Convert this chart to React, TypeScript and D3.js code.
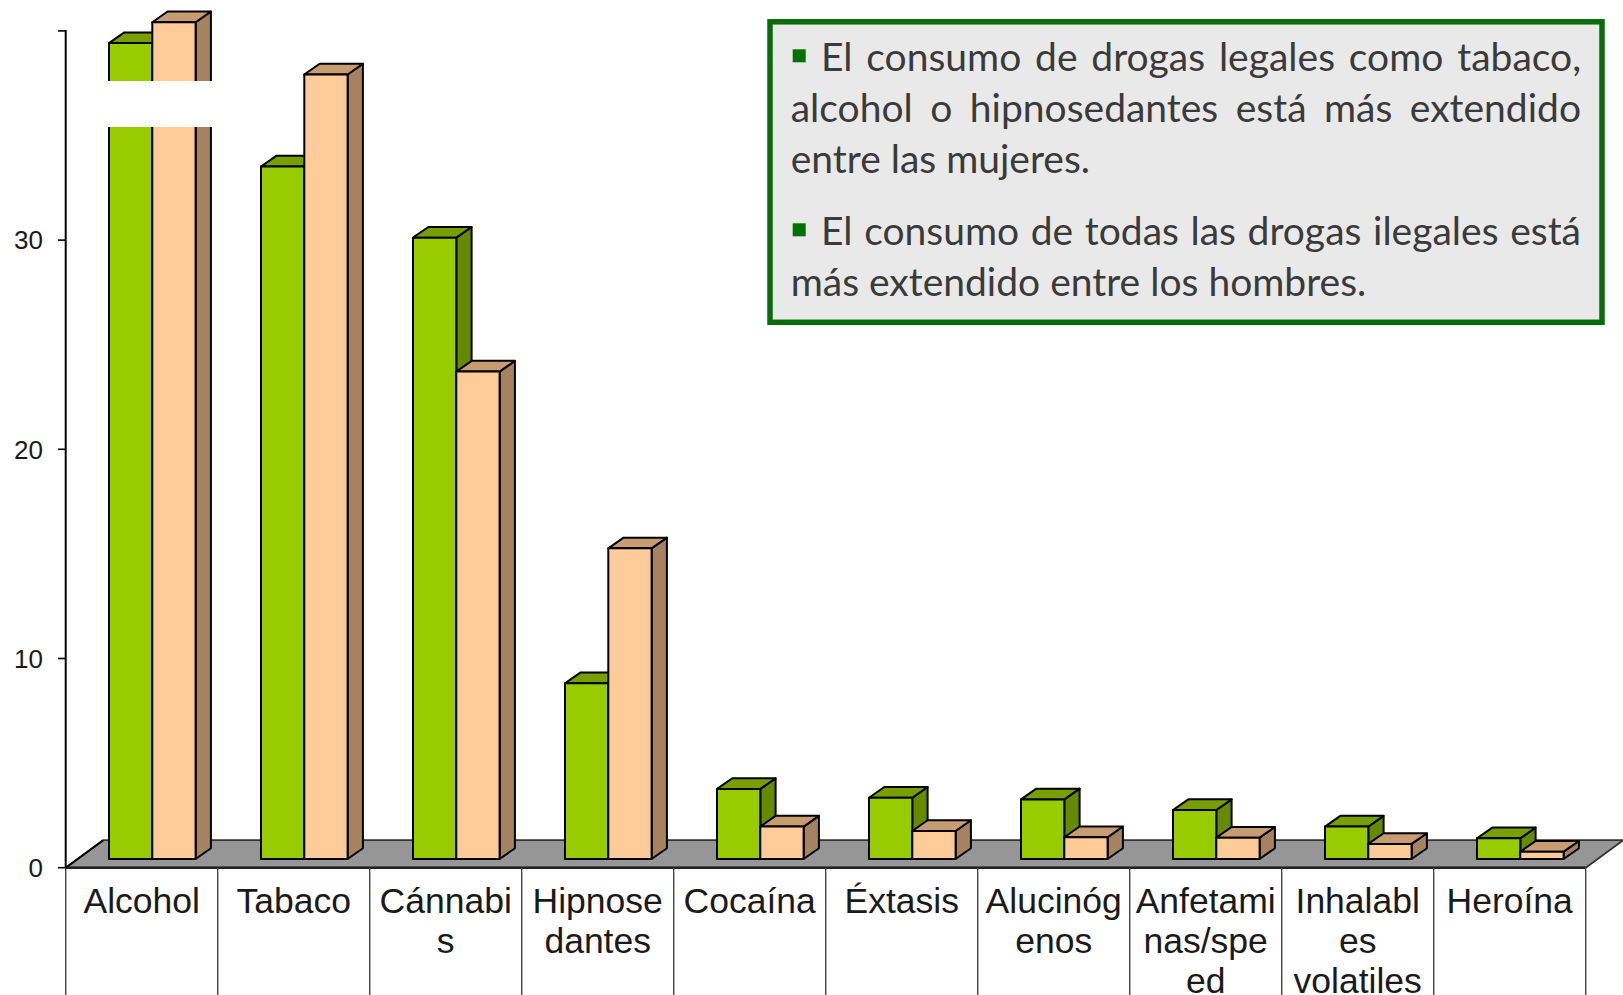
import React, { useMemo } from "react";
import * as d3 from "d3";

// ---- data ----
const categories = [
  "Alcohol", "Tabaco", "Cánnabis", "Hipnosedantes", "Cocaína",
  "Éxtasis", "Alucinógenos", "Anfetaminas/speed", "Inhalables volatiles", "Heroína",
];
const categoryLabelLines = [
  ["Alcohol"], ["Tabaco"], ["Cánnabi", "s"], ["Hipnose", "dantes"], ["Cocaína"],
  ["Éxtasis"], ["Alucinóg", "enos"], ["Anfetami", "nas/spe", "ed"], ["Inhalabl", "es", "volatiles"], ["Heroína"],
];
const seriesNames = ["Hombres", "Mujeres"];
const hombres = [39.0, 33.1, 29.7, 8.4, 3.35, 2.93, 2.85, 2.34, 1.55, 0.99];
const mujeres = [40.0, 37.5, 23.3, 14.85, 1.55, 1.34, 1.04, 1.02, 0.72, 0.35];
const yTicks = [0, 10, 20, 30, 40];
const yTickLabels = ["0", "10", "20", "30", ""];
const paragraphs = [
  ["El consumo de drogas legales como tabaco,", "alcohol o hipnosedantes está más extendido", "entre las mujeres."],
  ["El consumo de todas las drogas ilegales está", "más extendido entre los hombres."],
];

// ---- styles ----
const faceColors = [
  { front: "#99cc00", top: "#779f00", side: "#668a00" },
  { front: "#ffcc99", top: "#c89c72", side: "#a78262" },
];

export default function App() {
  const W = 1623, H = 995;
  const left = 65.7, right = 1585.7;
  const y0 = 867.7, yTop = 30.9;
  const floorD = { dx: 37.5, dy: -27.5 };
  const plane = { dx: 10.6, dy: -8.7 };
  const barD = { dx: 15.3, dy: -10.7 };

  const x = d3.scaleBand<string>().domain(categories).range([left, right]).padding(0);
  const y = d3.scaleLinear().domain([0, 40]).range([y0, yTop]);
  const bw = x.bandwidth();
  const inner = d3.scaleBand<string>().domain(seriesNames).range([0, 86.6]).padding(0);
  const series = [hombres, mujeres];

  const textFont = "39px Lato";
  const measure = useMemo(() => {
    const c = document.createElement("canvas").getContext("2d");
    return (s: string) => {
      if (!c) return s.length * 18;
      c.font = textFont;
      return c.measureText(s).width;
    };
  }, []);

  const boxLines: { words: { t: string; x: number }[]; y: number }[] = [];
  const baselines = [[71, 122, 173], [245, 296]];
  const textRight = 1581;
  paragraphs.forEach((para, pi) => {
    para.forEach((line, li) => {
      const startX = li === 0 ? 821 : 790.7;
      const words = line.split(" ");
      const widths = words.map(measure);
      const isLast = li === para.length - 1;
      const total = d3.sum(widths);
      const gap = isLast || words.length < 2 ? measure(" ") : (textRight - startX - total) / (words.length - 1);
      let cx = startX;
      const ws = words.map((t, i) => {
        const r = { t, x: cx };
        cx += widths[i] + gap;
        return r;
      });
      boxLines.push({ words: ws, y: baselines[pi][li] });
    });
  });

  const floorPts = [
    [left, y0], [right, y0], [right + floorD.dx, y0 + floorD.dy], [left + floorD.dx, y0 + floorD.dy],
  ];

  const bars: JSX.Element[] = [];
  categories.forEach((cat, ci) => {
    seriesNames.forEach((s, si) => {
      const v = series[si][ci];
      const fx = (x(cat) as number) + bw / 2 - inner.range()[1] / 2 + (inner(s) as number) + plane.dx;
      const fw = inner.bandwidth();
      const fTop = y(v) + plane.dy;
      const fBot = y(0) + plane.dy;
      const col = faceColors[si];
      const front = `M${fx},${fTop}H${fx + fw}V${fBot}H${fx}Z`;
      const top = `M${fx},${fTop}L${fx + barD.dx},${fTop + barD.dy}H${fx + fw + barD.dx}L${fx + fw},${fTop}Z`;
      const side = `M${fx + fw},${fTop}L${fx + fw + barD.dx},${fTop + barD.dy}V${fBot + barD.dy}L${fx + fw},${fBot}Z`;
      bars.push(
        <g key={`${ci}-${si}`} stroke="#000" strokeWidth={2} strokeLinejoin="round">
          <path d={side} fill={col.side} />
          <path d={top} fill={col.top} />
          <path d={front} fill={col.front} />
        </g>
      );
    });
  });

  return (
    <svg width={W} height={H} style={{ position: "absolute", left: 0, top: 0, display: "block", background: "#fff" }}>
      {/* floor */}
      <polygon points={floorPts.map((p) => p.join(",")).join(" ")} fill="#969696" stroke="#333" strokeWidth={1.8} strokeLinejoin="round" />
      <line x1={left} y1={y0} x2={right} y2={y0} stroke="#222" strokeWidth={2.6} />
      <line x1={left} y1={y0} x2={left + floorD.dx} y2={y0 + floorD.dy} stroke="#000" strokeWidth={2} />

      {/* bars */}
      {bars}

      {/* white patch */}
      <rect x={106} y={81} width={107} height={46} fill="#fff" />

      {/* y axis */}
      <line x1={left} y1={yTop - 1} x2={left} y2={y0} stroke="#000" strokeWidth={2} />
      {yTicks.map((t, i) => (
        <g key={t}>
          <line x1={58} x2={left} y1={y(t)} y2={y(t)} stroke="#000" strokeWidth={1.6} />
          <text x={43} y={y(t)} dy="0.36em" textAnchor="end" fontFamily="'Liberation Sans', Arial, sans-serif" fontSize={26} fill="#1a1a1a">
            {yTickLabels[i]}
          </text>
        </g>
      ))}

      {/* category table lines & labels */}
      {d3.range(categories.length + 1).map((k) => {
        const xx = left + k * bw;
        return <line key={k} x1={xx} x2={xx} y1={y0} y2={H} stroke="#444" strokeWidth={1.4} />;
      })}
      {categories.map((cat, ci) => (
        <text key={cat} textAnchor="middle" fontFamily="'Liberation Sans', Arial, sans-serif" fontSize={35.5} fill="#1a1a1a">
          {categoryLabelLines[ci].map((ln, li) => (
            <tspan key={li} x={(x(cat) as number) + bw / 2} y={912.7 + li * 40}>{ln}</tspan>
          ))}
        </text>
      ))}

      {/* text box */}
      <rect x={770} y={21.8} width={832} height={300.5} fill="#e9e9e9" stroke="#0b6a0b" strokeWidth={5.5} />
      {[0, 1].map((pi) => (
        <rect key={pi} x={792.7} y={49.3 + (pi ? 174 : 0)} width={13} height={13} fill="#007000" />
      ))}
      {boxLines.map((ln, i) => (
        <text key={i} y={ln.y} fontFamily="Lato, 'Open Sans', sans-serif" fontSize={39} fill="#3a3a3a">
          {ln.words.map((w, j) => (
            <tspan key={j} x={w.x}>{w.t}</tspan>
          ))}
        </text>
      ))}
    </svg>
  );
}
